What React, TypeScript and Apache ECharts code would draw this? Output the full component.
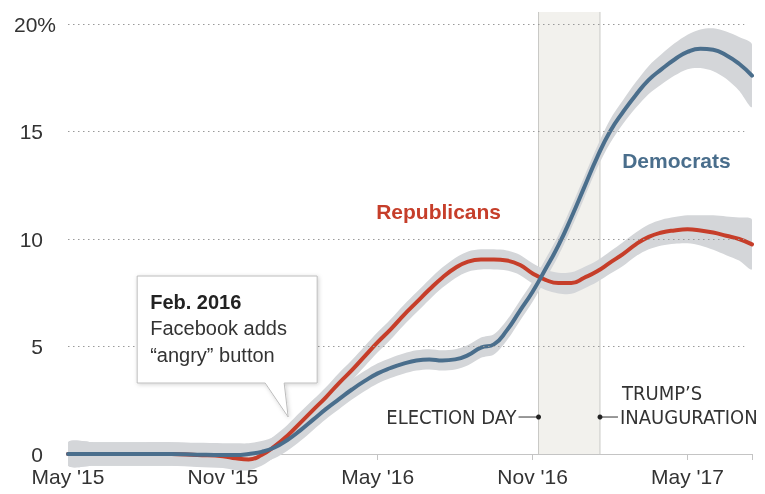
import React, { useEffect, useRef } from "react";
import * as echarts from "echarts";

// Months since May 2015
const months = [0, 1, 2, 3, 4, 5, 6, 6.5, 7, 7.5, 8, 8.5, 9, 9.5, 10, 10.5, 11, 11.5, 12, 12.5, 13, 13.5, 14, 14.5, 15, 15.5, 16, 16.5, 17, 17.5, 18, 18.5, 19, 19.5, 20, 20.5, 21, 21.5, 22, 22.5, 23, 23.5, 24, 24.5, 25, 25.5, 26, 26.5];

const republicans = [0, 0, 0, 0, 0, -0.05, -0.1, -0.2, -0.25, -0.05, 0.35, 0.85, 1.45, 2.05, 2.65, 3.3, 3.9, 4.55, 5.2, 5.8, 6.45, 7.05, 7.65, 8.2, 8.65, 8.95, 9.05, 9.05, 9.0, 8.8, 8.4, 8.1, 7.95, 7.95, 8.2, 8.5, 8.9, 9.3, 9.75, 10.1, 10.3, 10.4, 10.45, 10.4, 10.3, 10.15, 10.0, 9.75];

const democrats = [0, 0, 0, 0, 0, -0.03, -0.05, -0.05, 0, 0.1, 0.3, 0.65, 1.1, 1.6, 2.1, 2.55, 3.0, 3.4, 3.75, 4.0, 4.2, 4.35, 4.4, 4.35, 4.4, 4.6, 4.95, 5.1, 5.75, 6.65, 7.55, 8.6, 9.7, 11.0, 12.4, 13.8, 15.0, 15.9, 16.7, 17.4, 17.9, 18.35, 18.7, 18.85, 18.8, 18.55, 18.15, 17.6];

// Half-width of the grey confidence bands
const repMargin = [0.55, 0.55, 0.55, 0.55, 0.55, 0.55, 0.55, 0.55, 0.5, 0.5, 0.5, 0.5, 0.5, 0.48, 0.47, 0.47, 0.47, 0.47, 0.47, 0.47, 0.47, 0.47, 0.47, 0.47, 0.47, 0.47, 0.47, 0.47, 0.47, 0.47, 0.47, 0.47, 0.48, 0.5, 0.5, 0.5, 0.52, 0.55, 0.55, 0.58, 0.6, 0.62, 0.65, 0.7, 0.8, 0.9, 1.0, 1.15];
const demMargin = [0.55, 0.55, 0.55, 0.55, 0.55, 0.55, 0.55, 0.55, 0.5, 0.5, 0.5, 0.5, 0.5, 0.48, 0.47, 0.47, 0.47, 0.47, 0.47, 0.47, 0.47, 0.47, 0.47, 0.47, 0.47, 0.47, 0.47, 0.47, 0.47, 0.47, 0.47, 0.47, 0.48, 0.5, 0.5, 0.5, 0.55, 0.55, 0.6, 0.65, 0.7, 0.75, 0.8, 0.9, 1.0, 1.1, 1.25, 1.45];

const xTickLabels: Record<number, string> = { 0: "May '15", 6: "Nov '15", 12: "May '16", 18: "Nov '16", 24: "May '17" };
const yTickLabels: Record<number, string> = { 0: "0", 5: "5", 10: "10", 15: "15", 20: "" };
const yGridValues = [5, 10, 15, 20];
const yTopLabel = "20%";
const gridEnd = 26.2;

const electionDay = 18.23;
const inauguration = 20.61;
const eventLabelY = 1.72;
const bandTop = 20.56;
const calloutTip = [8.53, 1.72];
const repLabelPos = [11.94, 11.26];
const demLabelPos = [21.47, 13.67];

const RED = "#c63e2a";
const BLUE = "#4a6e8c";
const BAND = "#d4d6d9";
const TEXT = "#333333";
const FONT = "'Liberation Sans', Arial, sans-serif";
const NARROW = "'Liberation Sans Narrow', 'DejaVu Sans Condensed', 'Liberation Sans', sans-serif";

function bandSeries(values: number[], margins: number[]): any {
  return {
    type: "custom",
    data: [[months[0], values[0]]],
    encode: { x: 0, y: 1 },
    clip: false,
    silent: true,
    z: 2,
    renderItem: (_params: any, api: any) => {
      const upper = months.map((m, i) => api.coord([m, values[i] + margins[i]]));
      const lower = months.map((m, i) => api.coord([m, values[i] - margins[i]])).reverse();
      const x0 = upper[0][0];
      const x1 = upper[upper.length - 1][0];
      return {
        type: "polygon",
        shape: {
          points: upper.concat(lower),
          smooth: 0.3,
          smoothConstraint: [
            [x0, -1000],
            [x1, 3000],
          ],
        },
        style: { fill: BAND, stroke: "none" },
      };
    },
  };
}

export default function App() {
  const ref = useRef<HTMLDivElement>(null);
  useEffect(() => {
    const chart = echarts.init(ref.current!, null, { renderer: "svg" });
    const option: any = {
      animation: false,
      grid: { left: 68, right: 13, top: 24, bottom: 40, containLabel: false },
      xAxis: {
        type: "value",
        min: 0,
        max: 26.5,
        interval: 6,
        axisLine: { show: true, lineStyle: { color: "#c4c4c4", width: 1 } },
        axisTick: { show: true, length: 6, lineStyle: { color: "#c4c4c4" } },
        splitLine: { show: false },
        axisLabel: {
          formatter: (v: number) => xTickLabels[v] ?? "",
          fontSize: 21,
          color: TEXT,
          fontFamily: FONT,
          margin: 12,
        },
      },
      yAxis: {
        type: "value",
        min: 0,
        max: 20,
        interval: 5,
        axisLine: { show: false },
        axisTick: { show: false },
        splitLine: { show: false },
        axisLabel: {
          formatter: (v: number) => yTickLabels[v] ?? "",
          fontSize: 21,
          color: TEXT,
          fontFamily: FONT,
          margin: 25,
        },
      },
      series: [
        {
          type: "line",
          data: [[electionDay, 0]],
          symbol: "none",
          clip: false,
          silent: true,
          z: 1,
          lineStyle: { opacity: 0 },
          markLine: {
            silent: true,
            symbol: "none",
            label: { show: false },
            lineStyle: { color: "#9a9a9a", type: [1.5, 3.5], width: 1 },
            data: yGridValues.map((v) => [{ coord: [0, v] }, { coord: [gridEnd, v] }]),
          },
        },
        bandSeries(democrats, demMargin),
        bandSeries(republicans, repMargin),
        {
          type: "line",
          name: "Republicans",
          data: months.map((m, i) => [m, republicans[i]]),
          smooth: true,
          symbol: "none",
          clip: false,
          z: 3,
          lineStyle: { color: RED, width: 4, cap: "round" },
        },
        {
          type: "line",
          name: "Democrats",
          data: months.map((m, i) => [m, democrats[i]]),
          smooth: true,
          symbol: "none",
          clip: false,
          z: 4,
          lineStyle: { color: BLUE, width: 4, cap: "round" },
        },
      ],
    };
    chart.setOption(option);

    const p = (x: number, y: number) => chart.convertToPixel({ xAxisIndex: 0, yAxisIndex: 0 }, [x, y]) as number[];
    const top = p(0, 20);
    const ed = p(electionDay, eventLabelY);
    const inn = p(inauguration, eventLabelY);
    const b0 = p(electionDay, 0);
    const b1 = p(inauguration, bandTop);
    const tip = p(calloutTip[0], calloutTip[1]);
    const rl = p(repLabelPos[0], repLabelPos[1]);
    const dl = p(demLabelPos[0], demLabelPos[1]);
    const bx = tip[0] - 151;
    const by = tip[1] - 141;
    const bw = 180;
    const bh = 107;

    const graphic: any[] = [
      {
        type: "rect",
        z: -10,
        silent: true,
        shape: { x: b0[0], y: b1[1], width: b1[0] - b0[0], height: b0[1] - b1[1] },
        style: { fill: "#f2f1ed" },
      },
      { type: "line", z: -9, silent: true, shape: { x1: b0[0], y1: b0[1], x2: b0[0], y2: b1[1] }, style: { stroke: "#c9c9c6", lineWidth: 1 } },
      { type: "line", z: -9, silent: true, shape: { x1: b1[0], y1: b0[1], x2: b1[0], y2: b1[1] }, style: { stroke: "#c9c9c6", lineWidth: 1 } },
      {
        type: "text",
        x: top[0] - 54,
        y: top[1],
        style: { text: yTopLabel, fontSize: 21, fill: TEXT, fontFamily: FONT, verticalAlign: "middle", align: "left" },
      },
      {
        type: "polygon",
        z: 10,
        shape: {
          points: [
            [bx, by],
            [bx + bw, by],
            [bx + bw, by + bh],
            [tip[0] - 4, by + bh],
            [tip[0], tip[1]],
            [tip[0] - 23, by + bh],
            [bx, by + bh],
          ],
        },
        style: {
          fill: "#ffffff",
          stroke: "#bdbdbd",
          lineWidth: 1,
          shadowBlur: 4,
          shadowColor: "rgba(0,0,0,0.18)",
          shadowOffsetX: 1,
          shadowOffsetY: 1,
        },
      },
      {
        type: "text",
        z: 11,
        x: bx + 13,
        y: by + 26,
        style: { text: "Feb. 2016", fontSize: 20, fontWeight: "bold", fill: "#222", fontFamily: FONT, verticalAlign: "middle" },
      },
      {
        type: "text",
        z: 11,
        x: bx + 13,
        y: by + 52,
        style: { text: "Facebook adds", fontSize: 20, fill: TEXT, fontFamily: FONT, verticalAlign: "middle" },
      },
      {
        type: "text",
        z: 11,
        x: bx + 13,
        y: by + 79,
        style: { text: "\u201cangry\u201d button", fontSize: 20, fill: TEXT, fontFamily: FONT, verticalAlign: "middle" },
      },
      {
        type: "text",
        z: 11,
        x: rl[0],
        y: rl[1],
        style: { text: "Republicans", fontSize: 21, fontWeight: "bold", fill: RED, fontFamily: FONT, verticalAlign: "middle" },
      },
      {
        type: "text",
        z: 11,
        x: dl[0],
        y: dl[1],
        style: { text: "Democrats", fontSize: 21, fontWeight: "bold", fill: BLUE, fontFamily: FONT, verticalAlign: "middle" },
      },
      {
        type: "text",
        z: 11,
        x: ed[0] - 22,
        y: ed[1],
        style: { text: "ELECTION DAY", fontSize: 20, fill: TEXT, fontFamily: NARROW, verticalAlign: "middle", align: "right" },
      },
      { type: "line", z: 11, shape: { x1: ed[0] - 20, y1: ed[1], x2: ed[0], y2: ed[1] }, style: { stroke: TEXT, lineWidth: 1 } },
      { type: "circle", z: 11, shape: { cx: ed[0], cy: ed[1], r: 2.5 }, style: { fill: "#222" } },
      { type: "line", z: 11, shape: { x1: inn[0], y1: inn[1], x2: inn[0] + 18, y2: inn[1] }, style: { stroke: TEXT, lineWidth: 1 } },
      { type: "circle", z: 11, shape: { cx: inn[0], cy: inn[1], r: 2.5 }, style: { fill: "#222" } },
      {
        type: "text",
        z: 11,
        x: inn[0] + 20,
        y: inn[1],
        style: { text: "INAUGURATION", fontSize: 20, fill: TEXT, fontFamily: NARROW, verticalAlign: "middle", align: "left" },
      },
      {
        type: "text",
        z: 11,
        x: inn[0] + 22,
        y: inn[1] - 24,
        style: { text: "TRUMP\u2019S", fontSize: 20, fill: TEXT, fontFamily: NARROW, verticalAlign: "middle", align: "left" },
      },
    ];
    chart.setOption({ graphic });
    return () => chart.dispose();
  }, []);
  return <div ref={ref} style={{ position: "fixed", left: 0, top: 0, width: 765, height: 494 }} />;
}
